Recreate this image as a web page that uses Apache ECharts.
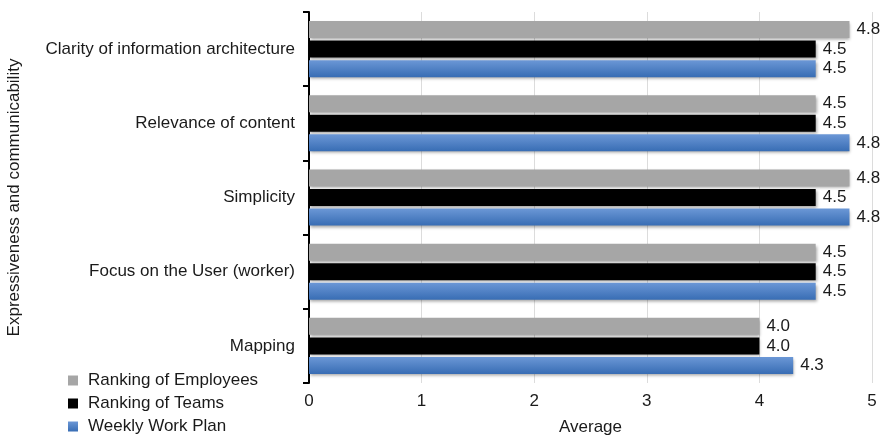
<!DOCTYPE html>
<html>
<head>
<meta charset="utf-8">
<script src="https://cdn.jsdelivr.net/npm/echarts@6/dist/echarts.min.js"></script>
<style>
  html, body { margin: 0; padding: 0; background: #fff; }
  #chart { width: 887px; height: 437px; }
</style>
</head>
<body>
<div id="chart"></div>
<script>
var categories = ['Clarity of information architecture', 'Relevance of content', 'Simplicity', 'Focus on the User (worker)', 'Mapping'];
var employees = [4.8, 4.5, 4.8, 4.5, 4.0];
var teams = [4.5, 4.5, 4.5, 4.5, 4.0];
var weeklyPlan = [4.5, 4.8, 4.8, 4.5, 4.3];
var xTicks = [0, 1, 2, 3, 4, 5];

var chart = echarts.init(document.getElementById('chart'));
var font = 'Liberation Sans, Arial, Helvetica, sans-serif';

function makeSeries(name, data, color) {
    return {
        name: name,
        type: 'bar',
        data: data,
        barWidth: 17,
        barGap: '15%',
        itemStyle: {
            color: color,
            shadowColor: 'rgba(0,0,0,0.35)',
            shadowBlur: 3,
            shadowOffsetX: 1,
            shadowOffsetY: 2
        },
        label: {
            show: true,
            position: 'right',
            distance: 7,
            color: '#1a1a1a',
            fontSize: 17,
            fontFamily: font,
            formatter: function (p) { return p.value.toFixed(1); }
        }
    };
}

var blue = new echarts.graphic.LinearGradient(0, 0, 0, 1, [
    { offset: 0, color: '#6b97d6' },
    { offset: 1, color: '#386db4' }
]);

var option = {
    animation: false,
    textStyle: { fontFamily: font },
    grid: { left: 309, right: 15, top: 12, bottom: 54, outerBoundsMode: 'none', containLabel: false },
    legend: {
        orient: 'vertical',
        left: 68,
        top: 372,
        height: 70,
        padding: 0,
        itemWidth: 10,
        itemHeight: 10,
        itemGap: 6,
        icon: 'rect',
        textStyle: { fontSize: 17, color: '#1a1a1a', fontFamily: font, padding: [0, 0, 0, 5] },
        data: ['Ranking of Employees', 'Ranking of Teams', 'Weekly Work Plan']
    },
    xAxis: {
        type: 'value',
        min: xTicks[0],
        max: xTicks[xTicks.length - 1],
        interval: 1,
        name: 'Average',
        nameLocation: 'middle',
        nameGap: 36,
        nameTextStyle: { fontSize: 17, color: '#1a1a1a' },
        axisLine: { show: false },
        axisTick: { show: false },
        axisLabel: { fontSize: 17, color: '#1a1a1a', margin: 10 },
        splitLine: { lineStyle: { color: '#dcdcdc', width: 1 } }
    },
    yAxis: {
        type: 'category',
        inverse: true,
        data: categories,
        name: 'Expressiveness and communicability',
        nameLocation: 'middle',
        nameGap: 286,
        nameRotate: 90,
        nameTextStyle: { fontSize: 17, color: '#1a1a1a' },
        axisLine: { show: true, lineStyle: { color: '#000', width: 2 } },
        axisTick: { show: true, length: 6, lineStyle: { color: '#000', width: 2 } },
        axisLabel: { fontSize: 17, color: '#1a1a1a', margin: 14 }
    },
    series: [
        makeSeries('Ranking of Employees', employees, '#a6a6a6'),
        makeSeries('Ranking of Teams', teams, '#000000'),
        makeSeries('Weekly Work Plan', weeklyPlan, blue)
    ]
};

chart.setOption(option);
</script>
</body>
</html>
